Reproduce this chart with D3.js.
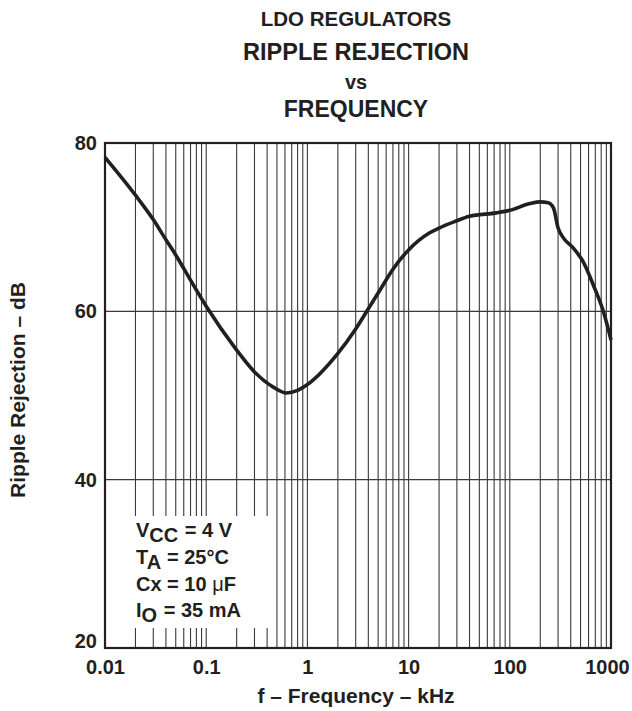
<!DOCTYPE html>
<html>
<head>
<meta charset="utf-8">
<script src="https://cdn.jsdelivr.net/npm/d3@7"></script>
<style>
  body { margin: 0; background: #fff; }
  text { font-family: "Liberation Sans", Arial, sans-serif; font-weight: bold; fill: #231f20; }
</style>
</head>
<body>
<svg width="632" height="711"></svg>
<script>
// data
const freqKHz = [0.01, 0.02, 0.03, 0.04, 0.05, 0.07, 0.1, 0.2, 0.3, 0.46, 0.62, 0.8, 1, 2, 3, 4, 5.2, 7, 10, 16, 20, 29, 40, 74, 100, 158, 200, 240, 270, 300, 340, 425, 530, 670, 840, 1000];
const rejectionDb = [78.3, 73.8, 70.9, 68.5, 66.7, 63.7, 60.6, 55.4, 52.8, 51.0, 50.3, 50.6, 51.3, 55.0, 57.9, 60.3, 62.5, 65.0, 67.3, 69.3, 69.9, 70.7, 71.3, 71.7, 72.0, 72.8, 73.0, 72.9, 72.3, 69.9, 68.7, 67.5, 65.9, 63.1, 60.0, 56.6];
const xTicks = [0.01, 0.1, 1, 10, 100, 1000];
const xTickLabels = ["0.01", "0.1", "1", "10", "100", "1000"];
const yTicks = [20, 40, 60, 80];
const titleLines = ["LDO REGULATORS", "RIPPLE REJECTION", "vs", "FREQUENCY"];

// plot box
const plotL = 105, plotR = 611, plotT = 143, plotB = 648;

const svg = d3.select("svg");

const x = d3.scaleLog().domain([0.01, 1000]).range([plotL, plotR]);
const y = d3.scaleLinear().domain([20, 80]).range([plotB, plotT]);

// vertical grid: 1..9 in every decade
const minor = [];
for (let e = -2; e < 3; e++) {
  for (let m = 1; m <= 9; m++) minor.push(m * Math.pow(10, e));
}
svg.append("g")
  .selectAll("line")
  .data(minor.slice(1))
  .enter()
  .append("line")
  .attr("x1", d => x(d))
  .attr("x2", d => x(d))
  .attr("y1", plotT)
  .attr("y2", plotB)
  .attr("stroke", "#3a3a3a")
  .attr("stroke-width", 1.1);

// horizontal grid
svg.append("g")
  .selectAll("line")
  .data([40, 60])
  .enter()
  .append("line")
  .attr("x1", plotL)
  .attr("x2", plotR)
  .attr("y1", d => y(d))
  .attr("y2", d => y(d))
  .attr("stroke", "#3a3a3a")
  .attr("stroke-width", 1.1);

// the conditions box hides the grid behind it
svg.append("rect")
  .attr("x", plotL + 2)
  .attr("y", 516)
  .attr("width", 164)
  .attr("height", 112)
  .attr("fill", "#fff");

// frame
svg.append("rect")
  .attr("x", plotL)
  .attr("y", plotT)
  .attr("width", plotR - plotL)
  .attr("height", plotB - plotT)
  .attr("fill", "none")
  .attr("stroke", "#231f20")
  .attr("stroke-width", 2.2);

// axes (labels only)
const xAxis = d3.axisBottom(x)
  .tickValues(xTicks)
  .tickSize(0)
  .tickFormat((d, i) => xTickLabels[i]);
const gx = svg.append("g")
  .attr("transform", "translate(0," + plotB + ")")
  .call(xAxis);
gx.select(".domain").remove();
gx.selectAll("text")
  .attr("y", 26)
  .attr("dy", 0)
  .style("font-size", "20px");
gx.selectAll(".tick")
  .filter(d => d === 1000)
  .select("text")
  .attr("x", -4);

const yAxis = d3.axisLeft(y).tickValues(yTicks).tickSize(0);
const gy = svg.append("g")
  .attr("transform", "translate(" + plotL + ",0)")
  .call(yAxis);
gy.select(".domain").remove();
gy.selectAll("text")
  .attr("x", -8)
  .style("font-size", "20px");
gy.selectAll(".tick")
  .filter(d => d === 20)
  .select("text")
  .attr("y", -7);

// curve
const line = d3.line()
  .x((d, i) => x(freqKHz[i]))
  .y(d => y(d))
  .curve(d3.curveMonotoneX);
svg.append("path")
  .datum(rejectionDb)
  .attr("d", line)
  .attr("fill", "none")
  .attr("stroke", "#231f20")
  .attr("stroke-width", 3.6)
  .attr("stroke-linejoin", "round");

// titles
const titleY = [26, 60, 89, 117];
const titleSize = [20.5, 23.5, 20, 23];
svg.append("g")
  .selectAll("text")
  .data(titleLines)
  .enter()
  .append("text")
  .attr("x", 356)
  .attr("y", (d, i) => titleY[i])
  .attr("text-anchor", "middle")
  .style("font-size", (d, i) => titleSize[i] + "px")
  .text(d => d);

// axis titles
svg.append("text")
  .attr("x", 356)
  .attr("y", 703)
  .attr("text-anchor", "middle")
  .style("font-size", "21px")
  .text("f \u2013 Frequency \u2013 kHz");

svg.append("text")
  .attr("transform", "rotate(-90)")
  .attr("x", -390)
  .attr("y", 25)
  .attr("text-anchor", "middle")
  .style("font-size", "21px")
  .text("Ripple Rejection \u2013 dB");

// test conditions
const cond = svg.append("g").style("font-size", "20px");
const c1 = cond.append("text").attr("x", 136).attr("y", 537);
c1.append("tspan").text("V");
c1.append("tspan").attr("dy", 5).text("CC");
c1.append("tspan").attr("dy", -5).attr("dx", 1).text(" = 4 V");

const c2 = cond.append("text").attr("x", 136).attr("y", 564);
c2.append("tspan").text("T");
c2.append("tspan").attr("dy", 5).text("A");
c2.append("tspan").attr("dy", -5).attr("dx", 1).text(" = 25\u00b0C");

const c3 = cond.append("text").attr("x", 136).attr("y", 591);
c3.append("tspan").text("Cx = 10 ");
c3.append("tspan").style("font-weight", "normal").text("\u03bc");
c3.append("tspan").text("F");

const c4 = cond.append("text").attr("x", 136).attr("y", 617);
c4.append("tspan").text("I");
c4.append("tspan").attr("dy", 5).text("O");
c4.append("tspan").attr("dy", -5).attr("dx", 1).text(" = 35 mA");
</script>
</body>
</html>
